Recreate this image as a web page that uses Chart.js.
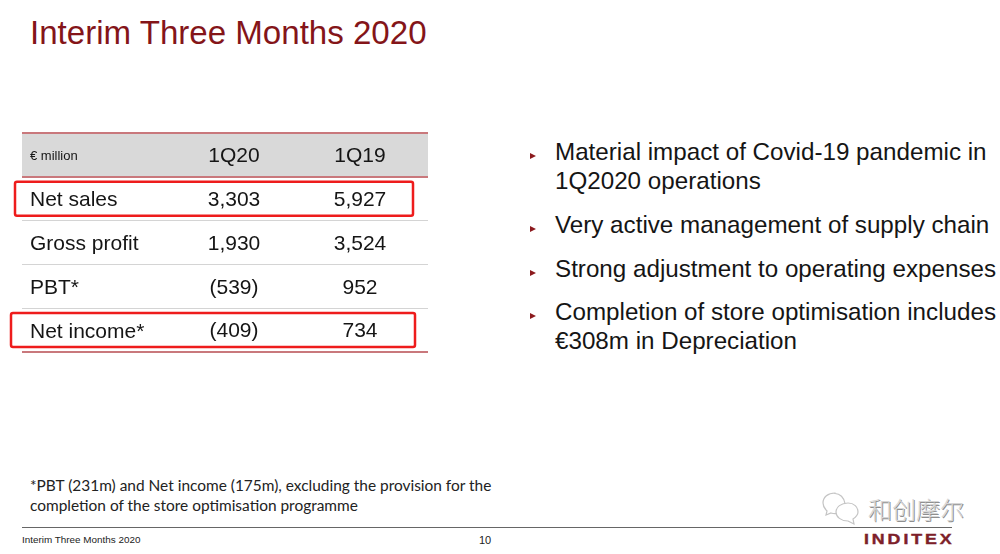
<!DOCTYPE html>
<html>
<head>
<meta charset="utf-8">
<title>Interim Three Months 2020</title>
<script src="https://cdn.jsdelivr.net/npm/chart.js@4"></script>
<style>
    html, body { margin: 0; padding: 0; background: #fff; }
    body { width: 1000px; height: 554px; position: relative; overflow: hidden; font-family: "Liberation Sans", Arial, sans-serif; color: #111; }
    #table-wrap { position: absolute; left: 0; top: 120px; width: 440px; height: 240px; }
    .abs { position: absolute; white-space: nowrap; }
    #title { left: 30px; top: 14px; font-size: 33.1px; line-height: 38px; color: #841519; }
    .bullet { left: 555px; font-size: 24.2px; line-height: 29px; color: #151515; }
    .arrow { left: 530px; width: 0; height: 0; border-left: 6px solid #8c1a1e; border-top: 3px solid transparent; border-bottom: 3px solid transparent; }
    #note { left: 30px; top: 475px; font-family: Lato, sans-serif; font-size: 15.45px; line-height: 20px; color: #222; }
    #rule { left: 22px; top: 527px; width: 930px; height: 1px; background: #666; }
    #foot { left: 22px; top: 534px; font-size: 9.9px; line-height: 12px; color: #222; }
    #page { left: 479px; top: 534px; font-size: 11px; line-height: 13px; color: #222; }
    #brand { left: 864px; top: 531px; font-size: 14px; line-height: 16px; font-weight: bold; letter-spacing: 2.3px; color: #7d1f2a; transform: scaleX(1.27); transform-origin: left; -webkit-text-stroke: 0.4px #7d1f2a; }
    #mark { left: 868px; top: 494px; font-family: "Noto Sans CJK SC", sans-serif; font-weight: 300; font-size: 24px; line-height: 30px; color: #d6d6d6; text-shadow: 1px 1px 0 #8f8f8f; }
    #mark-icon { left: 821px; top: 490px; }
</style>
</head>
<body>
<div class="abs" id="title">Interim Three Months 2020</div>

<div id="table-wrap"><canvas id="tableChart" width="440" height="240"></canvas></div>

<div class="abs arrow" style="top:153px"></div>
<div class="abs bullet" style="top:137px">Material impact of Covid-19 pandemic in<br>1Q2020 operations</div>
<div class="abs arrow" style="top:226px"></div>
<div class="abs bullet" style="top:210px">Very active management of supply chain</div>
<div class="abs arrow" style="top:270px"></div>
<div class="abs bullet" style="top:254px">Strong adjustment to operating expenses</div>
<div class="abs arrow" style="top:313px"></div>
<div class="abs bullet" style="top:297px">Completion of store optimisation includes<br>€308m in Depreciation</div>

<div class="abs" id="note">*PBT (231m) and Net income (175m), excluding the provision for the<br>completion of the store optimisation programme</div>

<svg class="abs" id="mark-icon" width="42" height="36" viewBox="0 0 42 36" fill="#fff" stroke="#c4c4c4" stroke-width="1.2">
    <path d="M14 3c-7 0-12 4-12 10 0 3 2 6 4 8l-1 4 5-2c2 .6 4 .8 6 .5l8-10c-1-6-5-10-10-10z"/>
    <path d="M27 13c-7 0-12 4-12 9s5 9 12 9l6 3-1-5c3-2 5-4 5-7 0-5-4-9-10-9z"/>
</svg>
<div class="abs" id="mark">和创摩尔</div>

<div class="abs" id="rule"></div>
<div class="abs" id="foot">Interim Three Months 2020</div>
<div class="abs" id="page">10</div>
<div class="abs" id="brand">INDITEX</div>

<script>
const rows = ["€ million", "Net sales", "Gross profit", "PBT*", "Net income*"];
const columns = ["1Q20", "1Q19"];
const values1Q20 = [3303, 1930, -539, -409];
const values1Q19 = [5927, 3524, 952, 734];
const highlighted = ["Net sales", "Net income*"];

// x runs in column units, 1 = 1Q20 and 2 = 1Q19
const xMin = -0.683;
const xMax = 2.54;
const headerBand = [[xMin, xMax], null, null, null, null];

const RED_LINE = "#c9787c";
const GREY_LINE = "#d4d4d4";
const FONT = "'Liberation Sans', Arial, sans-serif";

function formatValue(v) {
    const s = Math.abs(v).toLocaleString("en-US");
    return v < 0 ? "(" + s + ")" : s;
}

// red line at the top, under the header and at the bottom
function isRedLine(ctx) {
    return ctx.index === undefined || ctx.index <= 1;
}

const cellPlugin = {
    id: "cells",
    afterDatasetsDraw(chart) {
        const { ctx, scales } = chart;
        ctx.save();
        ctx.textAlign = "center";
        ctx.textBaseline = "middle";
        ctx.fillStyle = "#151515";
        ctx.font = "21px " + FONT;
        columns.forEach((name, i) => {
            const x = scales.x.getPixelForValue(i + 1);
            ctx.fillText(name, x, scales.y.getPixelForValue(0) + 1);
            const series = i === 0 ? values1Q20 : values1Q19;
            series.forEach((v, r) => {
                ctx.fillText(formatValue(v), x, scales.y.getPixelForValue(r + 1) + 1.6);
            });
        });
        ctx.strokeStyle = "#ee1c1c";
        ctx.lineWidth = 2.5;
        highlighted.forEach((name, i) => {
            const y = scales.y.getPixelForValue(rows.indexOf(name));
            const left = i === 0 ? 15 : 11;
            const right = i === 0 ? 413 : 415;
            ctx.beginPath();
            ctx.roundRect(left, y - 17, right - left, 34, 2);
            ctx.stroke();
        });
        ctx.restore();
    }
};

new Chart(document.getElementById("tableChart").getContext("2d"), {
    type: "bar",
    data: {
        labels: rows,
        datasets: [{
            data: headerBand,
            backgroundColor: "#d9d9d9",
            barPercentage: 1,
            categoryPercentage: 1
        }]
    },
    options: {
        indexAxis: "y",
        responsive: false,
        animation: false,
        layout: { padding: { left: 6, right: 12, top: 13, bottom: 0 } },
        plugins: { legend: { display: false }, tooltip: { enabled: false } },
        scales: {
            x: {
                type: "linear",
                min: xMin,
                max: xMax,
                ticks: { display: false },
                grid: { display: false },
                border: { display: false }
            },
            y: {
                type: "category",
                border: { display: false },
                afterFit: scale => {
                    scale.paddingTop = 0;
                    scale.paddingBottom = 0;
                },
                grid: {
                    offset: true,
                    z: 1,
                    drawTicks: false,
                    color: ctx => isRedLine(ctx) ? RED_LINE : GREY_LINE,
                    lineWidth: ctx => isRedLine(ctx) ? 2 : 1
                },
                ticks: {
                    mirror: true,
                    padding: 8,
                    z: 2,
                    labelOffset: 2,
                    color: "#151515",
                    autoSkip: false,
                    font: ctx => ({ family: FONT, size: ctx.index === 0 ? 13 : 21 })
                }
            }
        }
    },
    plugins: [cellPlugin]
});
</script>
</body>
</html>
